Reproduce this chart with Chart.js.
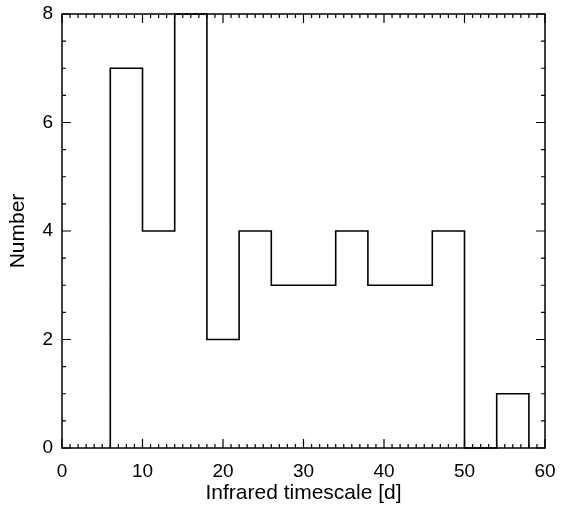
<!DOCTYPE html>
<html>
<head>
<meta charset="utf-8">
<script src="https://cdn.jsdelivr.net/npm/chart.js@4"></script>
<style>
  body { margin: 0; background: #fff; }
  #wrap { width: 561px; height: 506px; }
</style>
</head>
<body>
<div id="wrap"><canvas id="histChart" width="561" height="506"></canvas></div>
<script>
// Histogram data: bin edges and counts per bin
const binEdges = [6, 10, 14, 18, 22, 26, 30, 34, 38, 42, 46, 50, 54, 58];
const binCounts = [7, 4, 8, 2, 4, 3, 3, 4, 3, 3, 4, 0, 1];
const xTicks = [0, 10, 20, 30, 40, 50, 60];
const yTicks = [0, 2, 4, 6, 8];

// build step outline: each count runs from its left edge to the right edge
const stepPoints = [{ x: binEdges[0], y: 0 }];
binCounts.forEach((c, i) => stepPoints.push({ x: binEdges[i], y: c }));
stepPoints.push({ x: binEdges[binEdges.length - 1], y: 0 });

const FAMILY = "'Liberation Sans', Arial, sans-serif";
const TICK_FONT = { family: FAMILY, size: 19 };
const TITLE_FONT = { family: FAMILY, size: 21 };

// frame + inward ticks on all four sides
const idlAxes = {
    id: 'idlAxes',
    afterDraw(chart) {
        const { ctx, chartArea: a, scales } = chart;
        ctx.save();
        ctx.strokeStyle = '#000';
        ctx.lineWidth = 1.5;
        ctx.strokeRect(a.left, a.top, a.right - a.left, a.bottom - a.top);
        ctx.lineWidth = 1.2;
        ctx.beginPath();
        for (let v = 0; v <= 60; v += 1) {
            const px = scales.x.getPixelForValue(v);
            const len = v % 10 === 0 ? 9 : 4;
            ctx.moveTo(px, a.bottom); ctx.lineTo(px, a.bottom - len);
            ctx.moveTo(px, a.top); ctx.lineTo(px, a.top + len);
        }
        for (let v = 0; v <= 8; v += 0.5) {
            const py = scales.y.getPixelForValue(v);
            const len = v % 2 === 0 ? 9 : 4;
            ctx.moveTo(a.left, py); ctx.lineTo(a.left + len, py);
            ctx.moveTo(a.right, py); ctx.lineTo(a.right - len, py);
        }
        ctx.stroke();
        ctx.restore();
    }
};

new Chart(document.getElementById('histChart'), {
    type: 'line',
    data: {
        datasets: [{
            data: stepPoints,
            stepped: 'before',
            borderColor: '#000',
            borderWidth: 1.6,
            pointRadius: 0,
            fill: false,
            clip: false
        }]
    },
    options: {
        responsive: false,
        animation: false,
        layout: { padding: { top: 14, right: 16, left: 0, bottom: 0 } },
        plugins: { legend: { display: false }, tooltip: { enabled: false } },
        scales: {
            x: {
                type: 'linear',
                min: 0, max: 60,
                afterBuildTicks: s => { s.ticks = xTicks.map(v => ({ value: v })); },
                afterFit: s => { s.height = 58; s.paddingLeft = 0; s.paddingRight = 0; },
                grid: { display: false, drawTicks: false },
                border: { display: false },
                ticks: { color: '#000', font: TICK_FONT, padding: 12, maxRotation: 0 },
                title: {
                    display: true,
                    text: 'Infrared timescale [d]',
                    color: '#000',
                    font: TITLE_FONT,
                    padding: { top: 0, bottom: 0 }
                }
            },
            y: {
                min: 0, max: 8,
                afterBuildTicks: s => { s.ticks = yTicks.map(v => ({ value: v })); },
                afterFit: s => { s.width = 62; s.paddingTop = 0; s.paddingBottom = 0; },
                grid: { display: false, drawTicks: false },
                border: { display: false },
                ticks: { color: '#000', font: TICK_FONT, padding: 9 },
                title: {
                    display: true,
                    text: 'Number',
                    color: '#000',
                    font: TITLE_FONT,
                    padding: { top: 6, bottom: 0 }
                }
            }
        }
    },
    plugins: [idlAxes]
});
</script>
</body>
</html>
